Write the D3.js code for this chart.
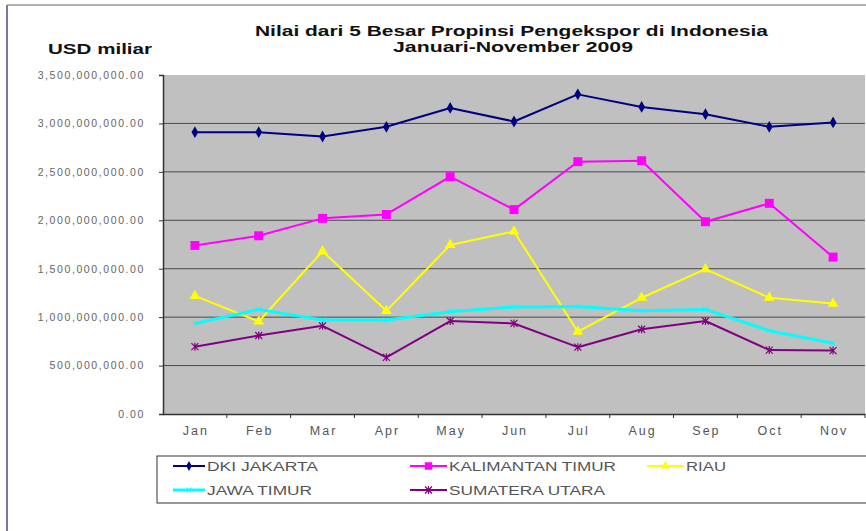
<!DOCTYPE html>
<html>
<head>
<meta charset="utf-8">
<script src="https://cdn.jsdelivr.net/npm/d3@7"></script>
<style>
    body { margin: 0; background: #fff; }
    svg { font-family: "Liberation Sans", Arial, sans-serif; }
</style>
</head>
<body>
<svg id="chart" width="866" height="531"></svg>
<script>
// data
let months = ["Jan", "Feb", "Mar", "Apr", "May", "Jun", "Jul", "Aug", "Sep", "Oct", "Nov"];
let seriesNames = ["DKI JAKARTA", "KALIMANTAN TIMUR", "RIAU", "JAWA TIMUR", "SUMATERA UTARA"];
let dkiJakarta = [2.91e9, 2.91e9, 2.865e9, 2.965e9, 3.16e9, 3.02e9, 3.30e9, 3.17e9, 3.095e9, 2.965e9, 3.01e9];
let kalimantanTimur = [1.74e9, 1.84e9, 2.02e9, 2.06e9, 2.45e9, 2.11e9, 2.605e9, 2.615e9, 1.985e9, 2.175e9, 1.62e9];
let riau = [1.22e9, 0.955e9, 1.68e9, 1.065e9, 1.745e9, 1.885e9, 0.85e9, 1.20e9, 1.495e9, 1.20e9, 1.14e9];
let jawaTimur = [0.935e9, 1.08e9, 0.97e9, 0.97e9, 1.055e9, 1.105e9, 1.11e9, 1.065e9, 1.08e9, 0.86e9, 0.73e9];
let sumateraUtara = [0.695e9, 0.81e9, 0.91e9, 0.585e9, 0.96e9, 0.935e9, 0.69e9, 0.875e9, 0.96e9, 0.66e9, 0.655e9];
let yTicks = [0, 0.5e9, 1e9, 1.5e9, 2e9, 2.5e9, 3e9, 3.5e9];

let allValues = [dkiJakarta, kalimantanTimur, riau, jawaTimur, sumateraUtara];
let colors = ["#000080", "#ff00ff", "#ffff00", "#00ffff", "#800080"];
let widths = [2, 2, 2, 3, 2];
let markers = ["diamond", "square", "triangle", "cross", "star"];

let svg = d3.select("#chart");

let plotLeft = 163, plotRight = 865, plotTop = 75, plotBottom = 414;

let x = d3.scaleBand().domain(months).range([plotLeft, plotRight]);
let y = d3.scaleLinear().domain([0, 3.5e9]).range([plotBottom, plotTop]);

// outer frame
svg.append("line").attr("x1", 7).attr("y1", 5).attr("x2", 7).attr("y2", 531)
    .attr("stroke", "#7878a0").attr("stroke-width", 2);
svg.append("line").attr("x1", 7).attr("y1", 5).attr("x2", 866).attr("y2", 5)
    .attr("stroke", "#999").attr("stroke-width", 1.5);

// plot area
svg.append("rect")
    .attr("x", plotLeft).attr("y", plotTop)
    .attr("width", plotRight - plotLeft).attr("height", plotBottom - plotTop)
    .attr("fill", "#c0c0c0");

// gridlines
svg.append("g").selectAll("line")
    .data(yTicks.filter(function(d) { return d > 0 && d < 3.5e9; }))
    .enter().append("line")
    .attr("x1", plotLeft).attr("x2", plotRight)
    .attr("y1", function(d) { return y(d); })
    .attr("y2", function(d) { return y(d); })
    .attr("stroke", "#4a4a4a").attr("stroke-width", 1);

// y axis
let yAxis = svg.append("g")
    .attr("transform", "translate(" + plotLeft + ",0)")
    .call(d3.axisLeft(y).tickValues(yTicks).tickSize(4).tickPadding(14)
        .tickFormat(function(d) { return d3.format(",.2f")(d); }));
yAxis.select(".domain").attr("stroke", "#333").attr("stroke-width", 1.5);
yAxis.selectAll(".tick line").attr("stroke", "#333");
yAxis.selectAll("text")
    .attr("fill", "#666").style("font-size", "10.5px")
    .style("font-family", "\"Liberation Sans\", Arial, sans-serif")
    .style("letter-spacing", "1.6px");

// x axis
let xAxis = svg.append("g")
    .attr("transform", "translate(0," + plotBottom + ")")
    .call(d3.axisBottom(x).tickSize(0).tickPadding(12));
xAxis.select(".domain").attr("stroke", "#333").attr("stroke-width", 1.5);
xAxis.selectAll("text")
    .attr("fill", "#555").style("font-size", "12.5px")
    .style("font-family", "\"Liberation Sans\", Arial, sans-serif")
    .style("letter-spacing", "2px")
    .attr("dx", "1px");
// ticks between categories
xAxis.append("g").selectAll("line")
    .data(months)
    .enter().append("line")
    .attr("x1", function(d) { return x(d) + x.bandwidth(); })
    .attr("x2", function(d) { return x(d) + x.bandwidth(); })
    .attr("y1", 0).attr("y2", 4)
    .attr("stroke", "#333");

// titles
svg.append("text").attr("x", 255).attr("y", 36)
    .attr("textLength", 513).attr("lengthAdjust", "spacingAndGlyphs")
    .style("font-size", "15px").style("font-weight", "bold").attr("fill", "#111")
    .text("Nilai dari 5 Besar Propinsi Pengekspor di Indonesia");
svg.append("text").attr("x", 393).attr("y", 52)
    .attr("textLength", 240).attr("lengthAdjust", "spacingAndGlyphs")
    .style("font-size", "15px").style("font-weight", "bold").attr("fill", "#111")
    .text("Januari-November 2009");
svg.append("text").attr("x", 48).attr("y", 54)
    .attr("textLength", 104).attr("lengthAdjust", "spacingAndGlyphs")
    .style("font-size", "15px").style("font-weight", "bold").attr("fill", "#111")
    .text("USD miliar");

function drawMarker(g, type, color, size) {
    if (type === "diamond") {
        g.append("path").attr("d", d3.symbol().type(d3.symbolDiamond).size(size * 4)())
            .attr("fill", color);
    } else if (type === "square") {
        g.append("path").attr("d", d3.symbol().type(d3.symbolSquare).size(size * 8)())
            .attr("fill", color);
    } else if (type === "triangle") {
        g.append("path").attr("d", d3.symbol().type(d3.symbolTriangle).size(size * 5)())
            .attr("fill", color);
    } else if (type === "cross") {
        g.append("path").attr("d", "M-2.5,-2.5L2.5,2.5M-2.5,2.5L2.5,-2.5")
            .attr("stroke", color).attr("stroke-width", 1).attr("fill", "none");
    } else if (type === "star") {
        g.append("path").attr("d", "M-3.5,-3.5L3.5,3.5M-3.5,3.5L3.5,-3.5M0,-4L0,4")
            .attr("stroke", color).attr("stroke-width", 1.2).attr("fill", "none");
    }
}

// series
let line = d3.line()
    .x(function(d, i) { return x(months[i]) + x.bandwidth() / 2; })
    .y(function(d) { return y(d); });

allValues.forEach(function(values, s) {
    svg.append("path")
        .datum(values)
        .attr("d", line)
        .attr("fill", "none")
        .attr("stroke", colors[s])
        .attr("stroke-width", widths[s])
        .attr("stroke-linejoin", "round");
    values.forEach(function(v, i) {
        let g = svg.append("g")
            .attr("transform", "translate(" + (x(months[i]) + x.bandwidth() / 2) + "," + y(v) + ")");
        drawMarker(g, markers[s], colors[s], 10);
    });
});

// legend
svg.append("rect").attr("x", 157).attr("y", 456).attr("width", 720).attr("height", 47)
    .attr("fill", "#fff").attr("stroke", "#333").attr("stroke-width", 1);

let legendPos = [[173, 466, 205], [410, 466, 447], [647, 466, 684], [173, 490, 205], [410, 490, 447]];
let legendTextLen = [111, 167, 40, 105, 156];
seriesNames.forEach(function(name, s) {
    let p = legendPos[s];
    svg.append("line").attr("x1", p[0]).attr("x2", p[2]).attr("y1", p[1]).attr("y2", p[1])
        .attr("stroke", colors[s]).attr("stroke-width", widths[s]);
    let g = svg.append("g").attr("transform", "translate(" + ((p[0] + p[2]) / 2) + "," + p[1] + ")");
    drawMarker(g, markers[s], colors[s], 7);
    svg.append("text").attr("x", p[2] + 2).attr("y", p[1] + 4.5)
        .attr("textLength", legendTextLen[s]).attr("lengthAdjust", "spacingAndGlyphs")
        .style("font-size", "12.5px").attr("fill", "#555")
        .text(name);
});
</script>
</body>
</html>
